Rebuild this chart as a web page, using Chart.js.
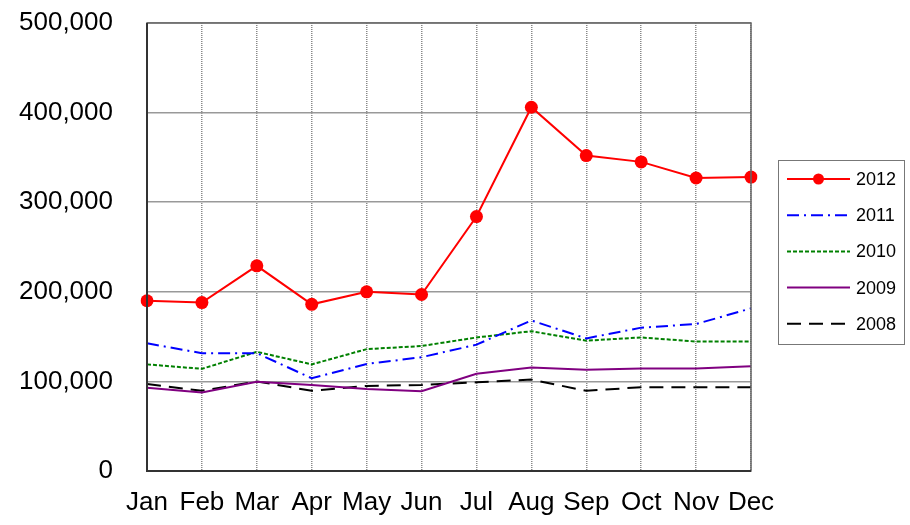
<!DOCTYPE html>
<html>
<head>
<meta charset="utf-8">
<script src="https://cdn.jsdelivr.net/npm/chart.js@4"></script>
<style>
  body { margin: 0; background: #fff; }
  #wrap { width: 910px; height: 525px; }
</style>
</head>
<body>
<div id="wrap"><canvas id="salesChart"></canvas></div>
<script>
// Dữ liệu theo tháng
var months = ['Jan', 'Feb', 'Mar', 'Apr', 'May', 'Jun', 'Jul', 'Aug', 'Sep', 'Oct', 'Nov', 'Dec'];
var years = ['2012', '2011', '2010', '2009', '2008'];
var y2012 = [190000, 188000, 229000, 186000, 200000, 197000, 284000, 406000, 352000, 345000, 327000, 328000];
var y2011 = [142500, 131500, 131500, 103500, 119500, 127000, 141000, 168000, 148000, 160000, 164000, 181500];
var y2010 = [119000, 114000, 133000, 119000, 136000, 139500, 149000, 156000, 145500, 149000, 144500, 144500];
var y2009 = [93000, 87500, 99500, 96000, 91500, 89000, 108500, 115500, 113000, 114500, 114500, 117000];
var y2008 = [97000, 89500, 100000, 89500, 95000, 96000, 99000, 102000, 89500, 93500, 93500, 93500];
var yTicks = [0, 100000, 200000, 300000, 400000, 500000];

Chart.defaults.font.family = '"Liberation Sans", Arial, sans-serif';
Chart.defaults.color = '#000';

// Chú thích tự vẽ (khung bên phải)
var boxLegend = {
    id: 'boxLegend',
    afterDraw: function (chart) {
        var ctx = chart.ctx;
        var x0 = 778, y0 = 160, w = 126, h = 184;
        ctx.save();
        ctx.strokeStyle = '#777';
        ctx.lineWidth = 1;
        ctx.strokeRect(x0 + 0.5, y0 + 0.5, w, h);
        chart.data.datasets.forEach(function (ds, i) {
            var cy = 179 + i * 36.2;
            ctx.beginPath();
            ctx.setLineDash(ds.borderDash || []);
            ctx.strokeStyle = ds.borderColor;
            ctx.lineWidth = ds.borderWidth;
            ctx.moveTo(787, cy);
            ctx.lineTo(850, cy);
            ctx.stroke();
            ctx.setLineDash([]);
            if (ds.pointRadius) {
                ctx.beginPath();
                ctx.fillStyle = ds.pointBackgroundColor;
                ctx.arc(818.5, cy, 5.5, 0, Math.PI * 2);
                ctx.fill();
            }
            ctx.fillStyle = '#000';
            ctx.font = '18px "Liberation Sans", Arial, sans-serif';
            ctx.textBaseline = 'middle';
            ctx.fillText(ds.label, 856, cy + 1);
        });
        ctx.restore();
    }
};

// Khung vùng vẽ
var plotFrame = {
    id: 'plotFrame',
    afterDatasetsDraw: function (chart) {
        var a = chart.chartArea, ctx = chart.ctx;
        ctx.save();
        ctx.strokeStyle = '#666';
        ctx.lineWidth = 1.5;
        ctx.strokeRect(a.left, a.top, a.right - a.left, a.bottom - a.top);
        ctx.strokeStyle = '#333';
        ctx.lineWidth = 2;
        ctx.beginPath();
        ctx.moveTo(a.left, a.top);
        ctx.lineTo(a.left, a.bottom);
        ctx.lineTo(a.right, a.bottom);
        ctx.stroke();
        ctx.restore();
    }
};

var ctx = document.getElementById('salesChart').getContext('2d');
var salesChart = new Chart(ctx, {
    type: 'line',
    data: {
        labels: months,
        datasets: [{
            label: years[0],
            data: y2012,
            borderColor: '#ff0000',
            backgroundColor: '#ff0000',
            pointBackgroundColor: '#ff0000',
            pointBorderWidth: 0,
            borderWidth: 2,
            pointRadius: 6.5,
            tension: 0
        }, {
            label: years[1],
            data: y2011,
            borderColor: '#0000ff',
            borderWidth: 2,
            borderDash: [12, 5, 2, 5],
            pointRadius: 0,
            tension: 0
        }, {
            label: years[2],
            data: y2010,
            borderColor: '#008000',
            borderWidth: 2,
            borderDash: [4, 2],
            pointRadius: 0,
            tension: 0
        }, {
            label: years[3],
            data: y2009,
            borderColor: '#800080',
            borderWidth: 2,
            pointRadius: 0,
            tension: 0
        }, {
            label: years[4],
            data: y2008,
            borderColor: '#000000',
            borderWidth: 2,
            borderDash: [14, 8],
            pointRadius: 0,
            tension: 0
        }]
    },
    options: {
        responsive: true,
        maintainAspectRatio: false,
        animation: false,
        layout: {
            padding: { top: 23, right: 159, left: 0, bottom: 0 }
        },
        plugins: {
            legend: { display: false },
            tooltip: { enabled: false }
        },
        scales: {
            x: {
                offset: false,
                border: { display: false, dash: [1, 1] },
                grid: {
                    color: '#888',
                    lineWidth: 1.5,
                    drawTicks: false
                },
                ticks: {
                    font: { size: 26 },
                    padding: 16,
                    maxRotation: 0,
                    autoSkip: false
                },
                afterFit: function (scale) {
                    scale.height = 54;
                    scale.paddingLeft = 0;
                    scale.paddingRight = 0;
                }
            },
            y: {
                min: 0,
                max: 500000,
                border: { display: false },
                grid: {
                    color: '#999',
                    lineWidth: 1.5,
                    drawTicks: false
                },
                afterBuildTicks: function (scale) {
                    scale.ticks = yTicks.map(function (v) { return { value: v }; });
                },
                ticks: {
                    font: { size: 26 },
                    padding: 34,
                    callback: function (v) { return v.toLocaleString('en-US'); }
                },
                afterFit: function (scale) {
                    scale.width = 147;
                    scale.paddingTop = 0;
                    scale.paddingBottom = 0;
                }
            }
        }
    },
    plugins: [plotFrame, boxLegend]
});
</script>
</body>
</html>
